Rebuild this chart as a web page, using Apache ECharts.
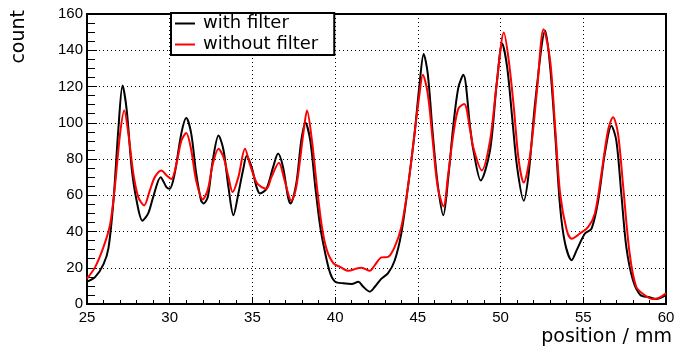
<!DOCTYPE html>
<html>
<head>
<meta charset="utf-8">
<script src="https://cdn.jsdelivr.net/npm/echarts@6/dist/echarts.min.js"></script>
<style>
  html, body { margin: 0; padding: 0; background: #fff; }
  #main { width: 689px; height: 347px; }
</style>
</head>
<body>
<div id="main"></div>
<script>
// positions (mm) and counts
const withFilterX = [25.0, 25.5, 26.0, 26.3, 26.6, 26.9, 27.15, 27.4, 27.7, 28.0, 28.35, 28.7, 29.0, 29.45, 29.8, 30.0,
  30.3, 30.7, 31.0, 31.3, 31.6, 31.9, 32.05, 32.3, 32.6, 32.95, 33.25, 33.55, 33.85, 34.15, 34.45, 34.65, 34.95, 35.25,
  35.45, 35.85, 36.25, 36.55, 36.85, 37.15, 37.3, 37.65, 37.95, 38.2, 38.5, 38.8, 39.1, 39.4, 39.7, 40.0, 40.5, 41.0,
  41.4, 41.7, 42.1, 42.4, 42.8, 43.2, 43.6, 44.0, 44.4, 44.8, 45.1, 45.35, 45.6, 45.9, 46.2, 46.54, 46.84, 47.15, 47.45,
  47.75, 48.16, 48.36, 48.8, 49.36, 49.76, 50.1, 50.4, 50.7, 51.0, 51.4, 51.7, 52.1, 52.7, 53.0, 53.3, 53.6, 53.9, 54.3,
  54.6, 55.1, 55.5, 55.9, 56.3, 56.7, 57.0, 57.3, 57.6, 58.0, 58.45, 59.0, 59.4, 60.0];
const withFilterY = [12.3, 15, 22, 31, 57, 97, 120.5, 107, 75, 57, 46, 50, 59, 70, 64.5, 63.6,
  72, 94, 102.6, 94, 72, 57, 55.5, 59, 79, 93, 85, 64.5, 49, 61, 74.6, 81.6, 75.5, 64.5,
  61, 63.6, 75.5, 83, 75.5, 59, 55.4, 66.4, 90, 100, 90, 64.5, 42.5, 28, 17, 12.3, 11.4, 11,
  12.3, 9.5, 6.8, 9.5, 14, 17, 24, 39, 64.5, 94, 121, 138, 127, 94, 66, 49, 70, 99, 119.5,
  126.5, 97.5, 84.7, 68.2, 84.7, 121, 143.7, 130.5, 103, 75.5, 57, 72, 112, 150.7, 130.5, 94, 53.5, 33.4, 24.2,
  29.7, 38.9, 41.6, 57, 83, 98.4, 90, 60.7, 31.5, 13.2, 5, 3.7, 2.7, 5];

const withoutFilterX = [25.0, 25.5, 26.0, 26.4, 26.7, 27.0, 27.25, 27.5, 27.8, 28.1, 28.45, 28.8, 29.1, 29.5, 29.8, 30.1,
  30.4, 30.7, 31.0, 31.3, 31.6, 32.0, 32.3, 32.6, 32.95, 33.25, 33.55, 33.8, 34.15, 34.55, 34.85, 35.25, 35.55, 35.85,
  36.15, 36.6, 36.95, 37.35, 37.65, 38.1, 38.3, 38.6, 38.9, 39.2, 39.5, 39.9, 40.3, 40.8, 41.3, 41.6, 42.1, 42.4, 42.8,
  43.2, 43.6, 44.0, 44.4, 44.8, 45.1, 45.3, 45.6, 45.9, 46.2, 46.55, 46.84, 47.15, 47.45, 47.8, 48.16, 48.36, 48.86,
  49.36, 49.76, 50.2, 50.5, 50.8, 51.1, 51.4, 51.8, 52.2, 52.6, 53.0, 53.3, 53.6, 54.0, 54.3, 54.8, 55.3, 55.7, 56.1,
  56.5, 56.8, 57.1, 57.4, 57.8, 58.2, 58.7, 59.2, 59.6, 60.0];
const withoutFilterY = [14, 20.5, 31.5, 44, 66, 94, 106.7, 94, 72, 59, 54.4, 62.7, 70, 73.7, 71, 69,
  77, 90, 94.4, 85, 68, 57.7, 63, 77, 85.6, 81, 70, 61.8, 70, 85.6, 77, 67, 64.5, 63.6,
  70, 78, 68, 57, 64.5, 95.7, 106.7, 90, 64.5, 42.5, 29.7, 22.4, 20.5, 18.3, 19.6, 20, 18.3, 21.5, 25.7,
  26, 31.5, 42.5, 64.5, 94, 116, 126.5, 116, 90, 64.5, 53.9, 72, 94, 107.8, 110.4, 96, 86, 73.7,
  90, 121, 149.8, 134, 108.5, 79, 67, 83, 117.7, 151.6, 134, 97.5, 61, 40.7, 36, 38.9, 42.5, 50, 72,
  96, 103, 94, 66, 28, 9.5, 5, 2.7, 3.5, 5.9];

const seriesNames = ['with filter', 'without filter'];
const xTicks = { min: 25, max: 60, step: 5 };
const yTicks = { min: 0, max: 160, step: 20 };

function pairs(xs, ys) {
  return xs.map((x, i) => [x, ys[i]]);
}

var myChart = echarts.init(document.getElementById('main'));

const tickFont = { fontFamily: 'Liberation Sans', fontSize: 15, color: '#000' };
const gridLine = { show: true, lineStyle: { color: '#000', width: 1, type: [1, 3] } };

let option = {
  animation: false,
  backgroundColor: '#fff',
  grid: {
    left: 87, right: 23, top: 14, bottom: 43,
    outerBoundsMode: 'none',
    containLabel: false,
    show: true, borderColor: '#000', borderWidth: 2, backgroundColor: 'transparent'
  },
  legend: {
    orient: 'vertical',
    left: 171,
    top: 13,
    data: seriesNames,
    icon: 'rect',
    itemWidth: 20,
    itemHeight: 2,
    itemGap: 2,
    padding: [1, 16, 1, 4],
    backgroundColor: '#fff',
    borderColor: '#000',
    borderWidth: 2,
    borderRadius: 0,
    textStyle: { fontFamily: 'DejaVu Sans', fontSize: 18, lineHeight: 19, color: '#000', padding: [0, 0, 0, 3] }
  },
  xAxis: {
    type: 'value',
    min: xTicks.min,
    max: xTicks.max,
    interval: xTicks.step,
    axisLine: { show: true, onZero: false, lineStyle: { color: '#000', width: 2 } },
    axisTick: { show: true, inside: true, length: 7, lineStyle: { color: '#000', width: 1 } },
    minorTick: { show: true, splitNumber: 5, length: 4, lineStyle: { color: '#000', width: 1 } },
    axisLabel: Object.assign({ margin: 6, showMinLabel: true, showMaxLabel: true }, tickFont),
    splitLine: gridLine
  },
  yAxis: {
    type: 'value',
    min: yTicks.min,
    max: yTicks.max,
    interval: yTicks.step,
    axisLine: { show: true, lineStyle: { color: '#000', width: 2 } },
    axisTick: { show: true, inside: true, length: 10, lineStyle: { color: '#000', width: 1 } },
    minorTick: { show: true, splitNumber: 4, length: 8, lineStyle: { color: '#000', width: 1 } },
    axisLabel: Object.assign({ margin: 4, showMinLabel: true, showMaxLabel: true }, tickFont),
    splitLine: gridLine
  },
  graphic: [
    {
      // y axis title, reads upward, right-aligned at the top
      type: 'text',
      x: 29,
      y: 10,
      rotation: Math.PI / 2,
      style: {
        text: 'count',
        font: '19px "DejaVu Sans"',
        fill: '#000',
        align: 'right',
        verticalAlign: 'bottom'
      }
    },
    {
      // x axis title, right-aligned under the axis end
      type: 'text',
      x: 672,
      y: 347,
      style: {
        text: 'position / mm',
        font: '19px "DejaVu Sans"',
        fill: '#000',
        align: 'right',
        verticalAlign: 'bottom'
      }
    }
  ],
  series: [
    {
      name: seriesNames[0],
      type: 'line',
      data: pairs(withFilterX, withFilterY),
      showSymbol: false,
      symbol: 'none',
      smooth: 0.3,
      color: '#000',
      lineStyle: { color: '#000', width: 2 },
      z: 3
    },
    {
      name: seriesNames[1],
      type: 'line',
      data: pairs(withoutFilterX, withoutFilterY),
      showSymbol: false,
      symbol: 'none',
      smooth: 0.3,
      color: '#ff0000',
      lineStyle: { color: '#ff0000', width: 2 },
      z: 4
    }
  ]
};

myChart.setOption(option);
</script>
</body>
</html>
